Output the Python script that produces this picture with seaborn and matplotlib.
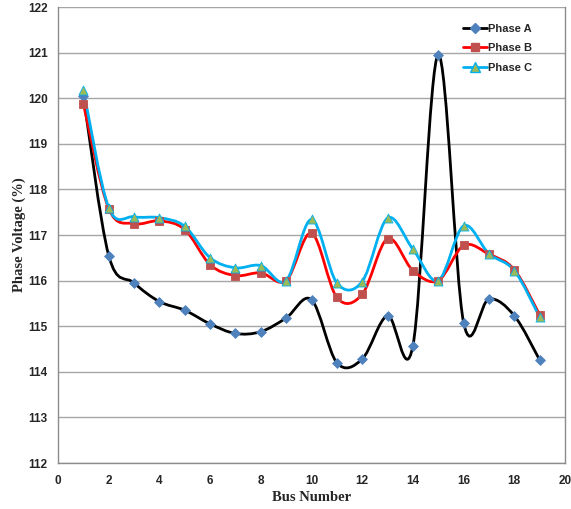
import numpy as np
import pandas as pd
import seaborn as sns
import matplotlib.pyplot as plt
from matplotlib.path import Path
from matplotlib.patches import PathPatch
from matplotlib.lines import Line2D

sns.set_style("white")

bus = list(range(1, 20))
phase_a = [120.05, 116.55, 115.95, 115.54, 115.35, 115.05, 114.84, 114.88, 115.18, 115.58,
           114.20, 114.28, 115.23, 114.57, 120.95, 115.08, 115.60, 115.23, 114.26]
phase_b = [119.88, 117.58, 117.25, 117.31, 117.12, 116.35, 116.11, 116.17, 116.00, 117.04,
           115.63, 115.70, 116.92, 116.22, 116.00, 116.77, 116.58, 116.24, 115.25]
phase_c = [120.19, 117.60, 117.40, 117.38, 117.19, 116.50, 116.28, 116.33, 116.00, 117.34,
           115.95, 115.98, 117.37, 116.69, 116.00, 117.20, 116.59, 116.22, 115.20]
series_names = ["Phase A", "Phase B", "Phase C"]
x_ticks = list(range(0, 21, 2))
y_ticks = list(range(112, 123))

styles = {
    "Phase A": dict(line="#000000", marker="D", face="#4F81BD", edge="#4F81BD", ms=5),
    "Phase B": dict(line="#FF0000", marker="s", face="#C0504D", edge="#C0504D", ms=6),
    "Phase C": dict(line="#00B0F0", marker="^", face="#9BBB59", edge="#00B0F0", ms=6.5),
}

df = pd.DataFrame({"bus": bus, "Phase A": phase_a, "Phase B": phase_b, "Phase C": phase_c})
long_df = df.melt(id_vars="bus", var_name="phase", value_name="voltage")


def smooth_path(xs, ys):
    """Excel-like smoothed line as cubic bezier segments"""
    pts = np.column_stack([xs, ys]).astype(float)
    n = len(pts)
    verts = [pts[0]]
    codes = [Path.MOVETO]
    for i in range(n - 1):
        p0 = pts[max(i - 1, 0)]
        p1 = pts[i]
        p2 = pts[i + 1]
        p3 = pts[min(i + 2, n - 1)]
        verts += [p1 + (p2 - p0) / 6, p2 - (p3 - p1) / 6, p2]
        codes += [Path.CURVE4] * 3
    return Path(verts, codes)


fig = plt.figure(figsize=(5.71, 5.09), dpi=100)
ax = fig.add_axes([58 / 571, 1 - 463 / 509, 507 / 571, 456 / 509])

for name in series_names:
    st = styles[name]
    sub = long_df[long_df.phase == name]
    ax.add_patch(PathPatch(smooth_path(sub.bus, sub.voltage), fill=False,
                           edgecolor=st["line"], lw=2.0, zorder=3))
    sns.scatterplot(data=sub, x="bus", y="voltage", marker=st["marker"], s=st["ms"] ** 2,
                    color=st["face"], edgecolor=st["edge"], linewidth=0.6, zorder=4, ax=ax)

ax.set_xlim(0, 20)
ax.set_ylim(112, 122)
ax.set_xticks(x_ticks)
ax.set_yticks(y_ticks)
ax.yaxis.grid(True, color="#A6A6A6", lw=1.0)
ax.set_axisbelow(True)
for side in ["left", "bottom", "right", "top"]:
    ax.spines[side].set_color("#8C8C8C")
    ax.spines[side].set_linewidth(1.0)
ax.spines["top"].set_visible(False)
ax.tick_params(axis="both", direction="out", length=4, width=1, color="#8C8C8C",
               labelsize=8.5)
ax.tick_params(axis="y", pad=3.5)
ax.tick_params(axis="x", pad=5)
for lab in ax.get_xticklabels() + ax.get_yticklabels():
    lab.set_fontfamily("Liberation Sans")
    lab.set_fontweight("bold")

ax.set_xlabel("Bus Number", fontfamily="Liberation Serif", fontweight="bold", fontsize=10.5)
ax.set_ylabel("Phase Voltage (%)", fontfamily="Liberation Serif", fontweight="bold", fontsize=10.5)
ax.xaxis.set_label_coords(0.5, -0.062)
ax.yaxis.set_label_coords(-0.063, 0.5)

handles = [Line2D([], [], color=styles[n]["line"], lw=2, marker=styles[n]["marker"],
                  markersize=styles[n]["ms"], markerfacecolor=styles[n]["face"],
                  markeredgecolor=styles[n]["edge"]) for n in series_names]
ax.legend(handles, series_names, loc="upper right", bbox_to_anchor=(0.955, 0.985), frameon=False,
          handlelength=2.2, handletextpad=0.1, labelspacing=0.85,
          prop=dict(family="Liberation Sans", weight="bold", size=8))

fig.savefig("out.png", dpi=100)
